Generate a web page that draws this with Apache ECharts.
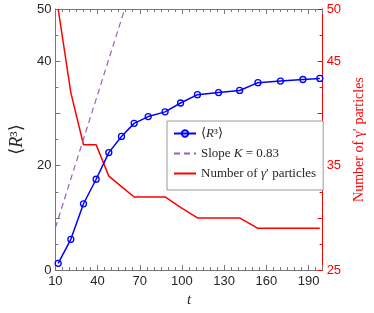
<!DOCTYPE html>
<html>
<head>
<meta charset="utf-8">
<script src="https://cdn.jsdelivr.net/npm/echarts@6/dist/echarts.min.js"></script>
<style>html,body{margin:0;padding:0;background:#fff}#c{width:374px;height:313px}</style>
</head>
<body>
<div id="c"></div>
<script>
// data
var tValues = [12, 21, 30, 39, 48, 57, 66, 76, 88, 99, 111, 126, 141, 154, 170, 186, 198];
var r3Values = [1.3, 5.9, 12.7, 17.4, 22.5, 25.6, 28.1, 29.4, 30.3, 32.0, 33.6, 34.0, 34.4, 35.9, 36.2, 36.5, 36.7];
var gammaCount = [50, 42, 37, 37, 34, 33, 32, 32, 32, 31, 30, 30, 30, 29, 29, 29, 29];
var slopeT = [10, 59.3];
var slopeR = [8.1, 50];
var xTickLabels = [10, 40, 70, 100, 130, 160, 190];
var leftTickLabels = [0, 20, 40, 50];
var rightTickLabels = [25, 35, 45, 50];

var serif = "'Liberation Serif','DejaVu Serif',serif";
var sans = "'Liberation Sans','DejaVu Sans',sans-serif";
var grey = '#777777';
var dark = '#262626';

function zip(a, b) { return a.map(function (v, i) { return [v, b[i]]; }); }

var chart = echarts.init(document.getElementById('c'));
chart.setOption({
  animation: false,
  grid: { left: 42, right: 43, top: 9, bottom: 40 },
  legend: {
    orient: 'vertical',
    left: 167, top: 121,
    padding: [6, 7, 10, 6],
    itemGap: 7,
    itemWidth: 22, itemHeight: 8,
    backgroundColor: '#fff',
    borderColor: '#9a9a9a', borderWidth: 1,
    data: [
      { name: 'R3' },
      { name: 'slope', itemStyle: { opacity: 0 } },
      { name: 'gamma', itemStyle: { opacity: 0 } }
    ],
    formatter: function (n) {
      if (n === 'R3') return '{n|⟨}{i|R}{n|³⟩}';
      if (n === 'slope') return '{n|Slope }{i|K}{n| = 0.83}';
      return '{n|Number of }{i|γ}{n|′ particles}';
    },
    textStyle: {
      rich: {
        n: { fontFamily: serif, fontSize: 13, color: dark },
        i: { fontFamily: serif, fontSize: 13, fontStyle: 'italic', color: dark }
      }
    }
  },
  xAxis: [{
    type: 'value', min: 10, max: 200, interval: 30,
    name: 't', nameLocation: 'middle', nameGap: 22,
    nameTextStyle: { fontFamily: serif, fontStyle: 'italic', fontSize: 15, color: dark },
    axisLine: { lineStyle: { color: grey, width: 1 } },
    axisTick: { inside: true, length: 5, lineStyle: { color: grey } },
    minorTick: { show: true, splitNumber: 6, length: 3, lineStyle: { color: grey } },
    splitLine: { show: false },
    axisLabel: {
      margin: 5, fontFamily: sans, fontSize: 13, color: dark,
      formatter: function (v) { return xTickLabels.indexOf(v) >= 0 ? String(v) : ''; }
    }
  }, {
    type: 'value', min: 10, max: 200, interval: 30, position: 'top',
    axisLine: { show: true, lineStyle: { color: grey, width: 1 } },
    axisTick: { inside: true, length: 5, lineStyle: { color: grey } },
    minorTick: { show: true, splitNumber: 6, length: 3, lineStyle: { color: grey } },
    splitLine: { show: false },
    axisLabel: { show: false }
  }],
  yAxis: [{
    type: 'value', min: 0, max: 50, interval: 10, position: 'left',
    name: '{n|⟨}{i|R}{n|³⟩}', nameLocation: 'middle', nameGap: 17, nameRotate: 90,
    nameTextStyle: {
      rich: {
        n: { fontFamily: serif, fontSize: 18, color: dark },
        i: { fontFamily: serif, fontSize: 18, fontStyle: 'italic', color: dark }
      }
    },
    axisLine: { show: true, lineStyle: { color: grey, width: 1 } },
    axisTick: { inside: true, length: 5, lineStyle: { color: grey } },
    minorTick: { show: true, splitNumber: 2, length: 3, lineStyle: { color: grey } },
    splitLine: { show: false },
    axisLabel: {
      margin: 4, fontFamily: sans, fontSize: 13, color: dark,
      formatter: function (v) { return leftTickLabels.indexOf(v) >= 0 ? String(v) : ''; }
    }
  }, {
    type: 'value', min: 25, max: 50, interval: 5, position: 'right',
    name: 'Number of γ′ particles', nameLocation: 'middle', nameGap: 22, nameRotate: 90,
    nameTextStyle: { fontFamily: serif, fontSize: 14, color: '#ff0000' },
    axisLine: { show: true, lineStyle: { color: '#ff0000', width: 1 } },
    axisTick: { inside: true, length: 5, lineStyle: { color: '#ff0000' } },
    minorTick: { show: true, splitNumber: 2, length: 3, lineStyle: { color: '#ff0000' } },
    splitLine: { show: false },
    axisLabel: {
      margin: 4, fontFamily: sans, fontSize: 13, color: '#ff0000',
      formatter: function (v) { return rightTickLabels.indexOf(v) >= 0 ? String(v) : ''; }
    }
  }],
  series: [{
    name: 'R3', type: 'line', xAxisIndex: 0, yAxisIndex: 0,
    data: zip(tValues, r3Values),
    symbol: 'circle', symbolSize: 6,
    itemStyle: { color: 'rgba(255,255,255,0)', borderColor: '#0000ff', borderWidth: 1.3 },
    lineStyle: { color: '#0000ff', width: 1.5 },
    z: 4
  }, {
    name: 'slope', type: 'line', xAxisIndex: 0, yAxisIndex: 0,
    data: zip(slopeT, slopeR),
    symbol: 'none',
    itemStyle: { color: '#9b5fc0', opacity: 0 },
    lineStyle: { color: '#9b5fc0', width: 1.2, type: [6, 4] },
    z: 3
  }, {
    name: 'gamma', type: 'line', xAxisIndex: 0, yAxisIndex: 1,
    data: zip(tValues, gammaCount),
    symbol: 'none',
    itemStyle: { color: '#ff0000', opacity: 0 },
    lineStyle: { color: '#ff0000', width: 1.5 },
    z: 2
  }]
});
</script>
</body>
</html>
